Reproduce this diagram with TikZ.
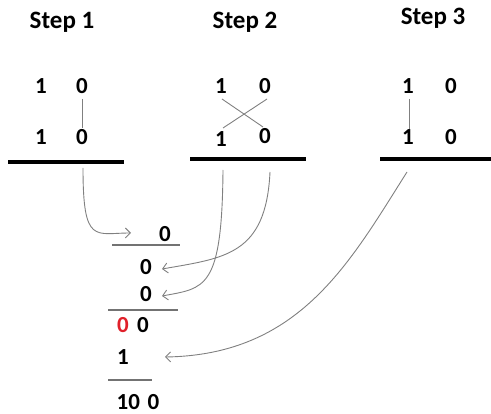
\documentclass[tikz,border=0pt]{standalone}
\usepackage{fontspec}
\setmainfont{Carlito}
\usetikzlibrary{arrows.meta}
\definecolor{arrowgray}{HTML}{808080}
\definecolor{redzero}{HTML}{E0202A}
\tikzset{
  steplabel/.style={font=\fontsize{25}{28}\selectfont\bfseries, inner sep=0pt, anchor=base},
  digit/.style={font=\fontsize{23}{26}\selectfont\bfseries, inner sep=0pt, anchor=center},
  bar/.style={line width=4pt, black},
  thinbar/.style={line width=1.6pt, arrowgray!90!black},
  link/.style={line width=0.9pt, arrowgray},
  flow/.style={line width=0.9pt, arrowgray, -{Straight Barb[length=5pt,width=10pt]}},
}
\begin{document}
\begin{tikzpicture}[x=1pt,y=-1pt]
\useasboundingbox (0,0) rectangle (491,414);
% step labels
\node[steplabel] (s1) at (62,29) {Step 1};
\node[steplabel] (s2) at (245,29) {Step 2};
\node[steplabel] (s3) at (433,25) {Step 3};
% step 1
\node[digit] (a11) at (41,86) {1};
\node[digit] (a10) at (82,86) {0};
\node[digit] (a21) at (41,137) {1};
\node[digit] (a20) at (82,137) {0};
\draw[link] (82,99) -- (82,128);
\coordinate (b1l) at (8,162); \coordinate (b1r) at (124,162);
\draw[bar] (b1l) -- (b1r);
% step 2
\node[digit] (c11) at (221,86) {1};
\node[digit] (c10) at (265,86) {0};
\node[digit] (c21) at (221,139) {1};
\node[digit] (c20) at (265,136) {0};
\draw[link] (222,99) -- (263,127);
\draw[link] (267,99) -- (223,128);
\coordinate (b2l) at (190,159); \coordinate (b2r) at (306,159);
\draw[bar] (b2l) -- (b2r);
% step 3
\node[digit] (d11) at (408,86) {1};
\node[digit] (d10) at (451,86) {0};
\node[digit] (d21) at (408,137) {1};
\node[digit] (d20) at (451,137) {0};
\draw[link] (409,99) -- (409,129);
\coordinate (b3l) at (380,159); \coordinate (b3r) at (491,159);
\draw[bar] (b3l) -- (b3r);
% result column
\node[digit] (r1) at (165,234) {0};
\draw[thinbar] (112,245) -- (180,245);
\node[digit] (r2) at (146,267) {0};
\node[digit] (r3) at (146,294) {0};
\draw[thinbar] (108,310) -- (178,310);
\node[digit, text=redzero] (r4a) at (123,325) {0};
\node[digit] (r4b) at (143,325) {0};
\node[digit] (r5) at (123,357) {1};
\draw[thinbar] (108,380) -- (152,380);
\node[digit] (r6) at (138,402) {10\,\,0};
% arrows
\coordinate (f1) at (83,168);
\coordinate (f2) at (223,170);
\coordinate (f3) at (270,172);
\coordinate (f4) at (407,172);
\draw[flow] (f1) .. controls (83,245) and (95,233) .. (131,233);
\draw[flow] (f2) .. controls (222,290) and (205,288) .. (162,296);
\draw[flow] (f3) .. controls (266,255) and (225,258) .. (162,269);
\draw[flow] (f4) .. controls (350,262) and (300,355) .. (165,357);
\end{tikzpicture}
\end{document}
